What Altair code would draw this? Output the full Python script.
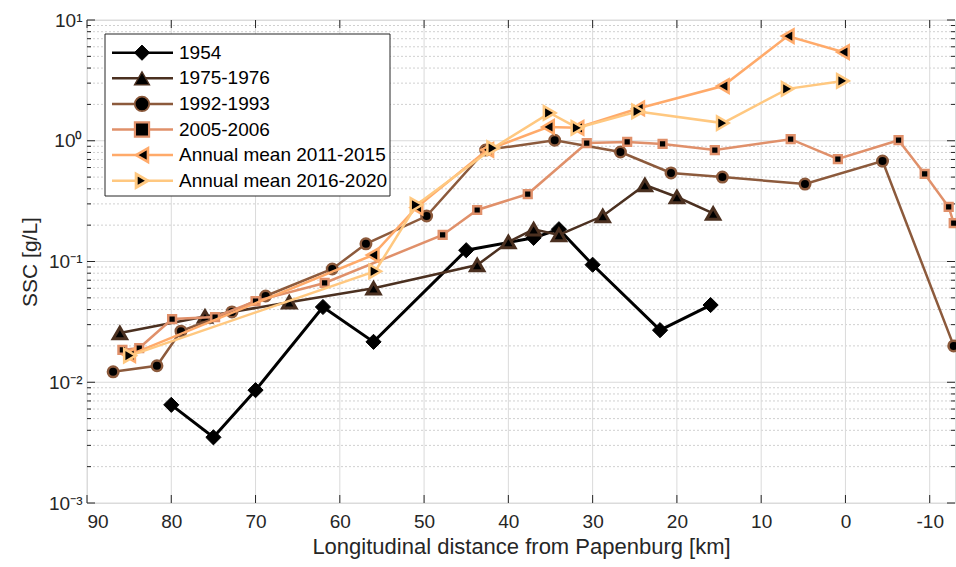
import altair as alt
import pandas as pd

series = ["1954", "1975-1976", "1992-1993", "2005-2006",
          "Annual mean 2011-2015", "Annual mean 2016-2020"]
colors = ["#000000", "#4b3020", "#8c5a3c", "#e0906a", "#ffaa6a", "#ffc880"]
shapes = ["diamond", "triangle-up", "circle", "square", "triangle-left", "triangle-right"]
marker_sizes = [230, 180, 110, 60, 180, 180]
marker_strokes = [1, 3, 2.5, 2.5, 2.5, 2.5]

km_1954 = [80, 75, 70, 62, 56, 45, 37, 34, 30, 22, 16]
ssc_1954 = [0.0065, 0.0035, 0.0086, 0.042, 0.0216, 0.124, 0.157, 0.185, 0.094, 0.027, 0.0436]

km_1975 = [86.1, 76, 66, 56, 43.7, 40, 37, 34, 28.8, 23.8, 20, 15.7]
ssc_1975 = [0.0256, 0.035, 0.046, 0.060, 0.0935, 0.145, 0.185, 0.166, 0.238, 0.43, 0.342, 0.25]

km_1992 = [86.9, 81.7, 78.85, 72.8, 68.8, 60.9, 56.9, 49.7, 42.7, 34.5, 26.7, 20.7, 14.6, 4.8, -4.4, -12.85]
ssc_1992 = [0.0122, 0.0137, 0.0265, 0.0382, 0.0518, 0.0867, 0.14, 0.238, 0.837, 1.01, 0.807, 0.541,
            0.50, 0.438, 0.679, 0.02]

km_2005 = [85.8, 83.8, 79.9, 74.8, 70, 61.8, 47.8, 43.7, 37.7, 30.7, 25.9, 21.7, 15.5, 6.5, 0.9,
           -6.3, -9.4, -12.25, -12.85]
ssc_2005 = [0.0185, 0.0192, 0.0334, 0.0347, 0.047, 0.0664, 0.166, 0.267, 0.362, 0.957, 0.977, 0.94,
            0.837, 1.03, 0.706, 1.01, 0.531, 0.283, 0.208]

km_2011 = [85, 56.1, 50.9, 42.5, 35.3, 31.8, 24.6, 14.55, 6.85, 0.3]
ssc_2011 = [0.0168, 0.113, 0.28, 0.84, 1.30, 1.28, 1.85, 2.84, 7.36, 5.43]

km_2016 = [84.9, 55.8, 50.9, 41.8, 35.1, 31.8, 24.6, 14.55, 6.85, 0.3]
ssc_2016 = [0.0166, 0.083, 0.295, 0.87, 1.70, 1.28, 1.75, 1.40, 2.69, 3.13]

km_all = [km_1954, km_1975, km_1992, km_2005, km_2011, km_2016]
ssc_all = [ssc_1954, ssc_1975, ssc_1992, ssc_2005, ssc_2011, ssc_2016]

x_ticks = [90, 80, 70, 60, 50, 40, 30, 20, 10, 0, -10]
y_major = [0.001, 0.01, 0.1, 1, 10]
y_minor = [m * 10.0 ** k for k in range(-3, 1) for m in range(2, 10)]

W, H = 868, 483
FONT = "Liberation Sans"
TXT = "#262626"

xscale = alt.Scale(domain=[-13, 90], reverse=True, nice=False, zero=False)
yscale = alt.Scale(type="log", domain=[0.001, 10], nice=False)

x_axis = alt.Axis(values=x_ticks, labelExpr="'' + datum.value", ticks=False, domain=False, grid=False,
                  labelFontSize=19, labelColor=TXT, labelFont=FONT, labelPadding=9,
                  title="Longitudinal distance from Papenburg [km]", titleFontSize=22,
                  titleFontWeight="normal", titleColor=TXT, titleFont=FONT, titlePadding=5)
y_axis = alt.Axis(values=y_major,
                  labelExpr="datum.value > 5 ? '10¹' : datum.value > 0.5 ? '10⁰' : datum.value > 0.05 ? '10⁻¹' : datum.value > 0.005 ? '10⁻²' : '10⁻³'",
                  ticks=False, domain=False, grid=False,
                  labelFontSize=19, labelColor=TXT, labelFont=FONT, labelPadding=5,
                  title="SSC [g/L]", titleFontSize=21, titleFontWeight="normal",
                  titleColor=TXT, titleFont=FONT, titlePadding=8)

X = lambda f: alt.X(f, type="quantitative", scale=xscale, axis=x_axis)
Y = lambda f: alt.Y(f, type="quantitative", scale=yscale, axis=y_axis)

xg = pd.DataFrame({"x": x_ticks})
ymaj = pd.DataFrame({"y": y_major})
ymin = pd.DataFrame({"y": y_minor})

layers = []
# grid
layers.append(alt.Chart(ymin).mark_rule(color="#d0d0d0", strokeWidth=1, strokeDash=[2, 2]).encode(y=Y("y")))
layers.append(alt.Chart(ymaj).mark_rule(color="#dadada", strokeWidth=1).encode(y=Y("y")))
layers.append(alt.Chart(xg).mark_rule(color="#dadada", strokeWidth=1).encode(x=X("x")))
# inward ticks
layers.append(alt.Chart(xg).mark_rule(color=TXT).encode(x=X("x"), y=alt.value(H), y2=alt.value(H - 8)))
layers.append(alt.Chart(xg).mark_rule(color=TXT).encode(x=X("x"), y=alt.value(0), y2=alt.value(8)))
layers.append(alt.Chart(ymaj).mark_rule(color=TXT).encode(y=Y("y"), x=alt.value(0), x2=alt.value(8)))
layers.append(alt.Chart(ymaj).mark_rule(color=TXT).encode(y=Y("y"), x=alt.value(W), x2=alt.value(W - 8)))
layers.append(alt.Chart(ymin).mark_rule(color=TXT).encode(y=Y("y"), x=alt.value(0), x2=alt.value(4)))
layers.append(alt.Chart(ymin).mark_rule(color=TXT).encode(y=Y("y"), x=alt.value(W), x2=alt.value(W - 4)))

# data
for name, c, s, sz, sw, kms, sscs in zip(series, colors, shapes, marker_sizes, marker_strokes, km_all, ssc_all):
    df = pd.DataFrame({"km": kms, "ssc": sscs, "i": list(range(len(kms)))})
    base = alt.Chart(df)
    layers.append(base.mark_line(color=c, strokeWidth=2.5 if name != "1954" else 3).encode(
        x=X("km"), y=Y("ssc"), order=alt.Order("i:Q")))
    layers.append(base.mark_point(shape=s, size=sz, filled=True, fill="black", stroke=c,
                                  strokeWidth=sw, opacity=1).encode(x=X("km"), y=Y("ssc")))

main = alt.layer(*layers)

# legend
leg = pd.DataFrame({"series": series})
row_scale = alt.Scale(type="point", domain=series, range=[32.7, 160.7], padding=0)
col_scale = alt.Scale(domain=series, range=colors)
shp_scale = alt.Scale(domain=series, range=shapes)
sz_scale = alt.Scale(domain=series, range=marker_sizes)
sw_scale = alt.Scale(domain=series, range=marker_strokes)
LY = alt.Y("series:N", scale=row_scale, axis=None)

box = alt.Chart(pd.DataFrame({"a": [0]})).mark_rect(fill="white", stroke=TXT, strokeWidth=1).encode(
    x=alt.value(18), x2=alt.value(303), y=alt.value(14), y2=alt.value(176))
leg_line = alt.Chart(leg).mark_rule(strokeWidth=2.5).encode(
    y=LY, x=alt.value(25), x2=alt.value(86),
    color=alt.Color("series:N", scale=col_scale, legend=None))
leg_pt = alt.Chart(leg).mark_point(filled=True, fill="black", opacity=1).encode(
    y=LY, x=alt.value(55),
    stroke=alt.Stroke("series:N", scale=col_scale, legend=None),
    shape=alt.Shape("series:N", scale=shp_scale, legend=None),
    size=alt.Size("series:N", scale=sz_scale, legend=None),
    strokeWidth=alt.StrokeWidth("series:N", scale=sw_scale, legend=None))
leg_txt = alt.Chart(leg).mark_text(align="left", baseline="middle", font=FONT, fontSize=19,
                                   color="black").encode(
    y=LY, x=alt.value(92), text="series:N")
legend = alt.layer(box, leg_line, leg_pt, leg_txt)

chart = alt.layer(main, legend).resolve_scale(
    y="independent", color="independent", shape="independent", size="independent",
    stroke="independent", strokeWidth="independent"
).properties(
    width=W, height=H,
    autosize=alt.AutoSizeParams(type="none"),
    padding={"left": 87, "top": 20, "right": 1, "bottom": 64},
    background="white",
).configure_view(stroke=TXT, strokeWidth=1).configure(font=FONT)

chart.save("out.html", embed_options={"renderer": "svg", "actions": False})
